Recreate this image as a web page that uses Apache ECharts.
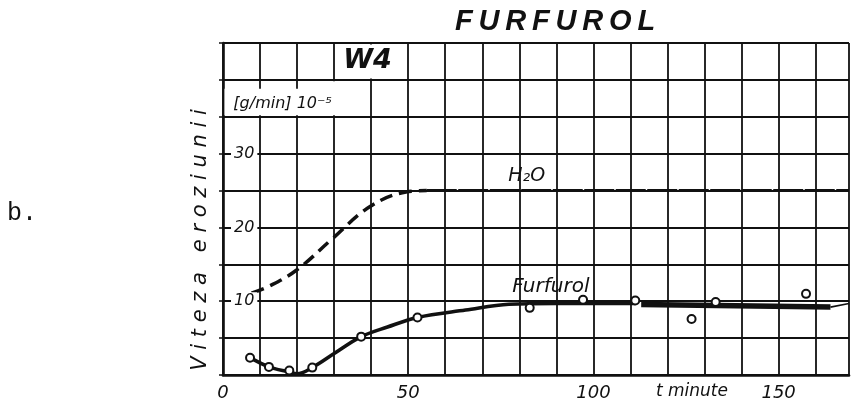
<!DOCTYPE html>
<html>
<head>
<meta charset="utf-8">
<script src="https://cdn.jsdelivr.net/npm/echarts@6/dist/echarts.min.js"></script>
<style>
  html, body { margin: 0; padding: 0; background: #fff; }
  #chart { width: 852px; height: 405px; }
</style>
</head>
<body>
<div id="chart"></div>
<script>
// Erosion rate of W4 in furfurol, compared with water (H2O)

// labelled ticks
const xTickLabels = [0, 50, 100, 150];
const yTickLabels = [10, 20, 30];

// measured points, furfurol [min] / [g/min 10^-5]
const furfurolT = [7.3, 12.4, 17.9, 24.1, 37.3, 52.5, 82.8, 97.2, 111.3, 126.5, 133.0, 157.4];
const furfurolV = [2.35, 1.1, 0.6, 1.0, 5.2, 7.8, 9.1, 10.2, 10.1, 7.6, 9.9, 11.0];

// mean curve drawn through the furfurol points
const furfurolCurveT = [7.3, 12.4, 17.9, 20.0, 24.1, 30.0, 37.3, 44.4, 52.5, 65.5, 77.2, 90.0, 100.0, 111.3];
const furfurolCurveV = [2.35, 1.1, 0.4, 0.15, 1.0, 2.9, 5.2, 6.5, 7.8, 8.8, 9.6, 9.7, 9.7, 9.7];
const furfurolLevelT = [112.9, 164.0];
const furfurolLevelV = [9.55, 9.2];
const furfurolTailT = [164.0, 169.0];
const furfurolTailV = [9.2, 9.7];

// water reference curve
const waterRiseT = [7.7, 12.3, 19.8, 29.6, 39.6, 49.4, 55.0];
const waterRiseV = [11.1, 12.0, 14.2, 18.5, 22.8, 24.8, 25.0];
const waterLevelT = [55.0, 169.0];
const waterLevelV = [25.0, 25.0];

const pairs = (a, b) => a.map((v, i) => [v, b[i]]);
const INK = '#111';
const HAND = 'DejaVu Sans';

const chart = echarts.init(document.getElementById('chart'), null, { renderer: 'canvas' });

chart.setOption({
  animation: false,
  backgroundColor: '#fff',
  title: {
    text: 'F\u2009U\u2009R\u2009F\u2009U\u2009R\u2009O\u2009L',
    left: 455,
    top: 7,
    padding: 0,
    textStyle: {
      fontFamily: 'Liberation Sans',
      fontStyle: 'italic',
      fontWeight: 'bold',
      fontSize: 29,
      color: INK
    }
  },
  grid: { left: 223, top: 43, bottom: 30, right: 0, containLabel: false },
  xAxis: {
    type: 'value',
    min: 0, max: 169, interval: 10,
    axisLine: { show: true, lineStyle: { color: INK, width: 2.6 } },
    axisTick: { show: false },
    splitLine: { show: true, lineStyle: { color: INK, width: 1.8 } },
    axisLabel: {
      margin: 9,
      color: INK,
      fontFamily: HAND,
      fontStyle: 'italic',
      fontSize: 18,
      formatter: v => (xTickLabels.includes(v) ? String(v) : '')
    }
  },
  yAxis: [
    {
      type: 'value',
      position: 'left',
      min: 0, max: 45, interval: 5,
      axisLine: { show: true, lineStyle: { color: INK, width: 2.6 } },
      axisTick: { show: true, length: 4, lineStyle: { color: INK, width: 1.5 } },
      splitLine: { show: true, lineStyle: { color: INK, width: 1.8 } },
      axisLabel: { show: false }
    },
    {
      type: 'value',
      position: 'left',
      offset: 0,
      min: 0, max: 45, interval: 5,
      z: 4,
      axisLine: { show: false },
      axisTick: { show: false },
      splitLine: { show: false },
      axisLabel: {
        inside: true,
        margin: 8,
        formatter: v => (yTickLabels.includes(v) ? '{n|' + v + '}' : ''),
        rich: {
          n: {
            color: INK,
            fontFamily: HAND,
            fontStyle: 'italic',
            fontSize: 16,
            backgroundColor: '#fff',
            padding: [1, 3]
          }
        }
      }
    }
  ],
  series: [
    {
      name: 'H2O rise',
      type: 'line',
      data: pairs(waterRiseT, waterRiseV),
      smooth: 0.4,
      symbol: 'none',
      lineStyle: { color: INK, width: 3.5, type: [13, 7] },
      z: 3
    },
    {
      name: 'H2O',
      type: 'line',
      data: pairs(waterLevelT, waterLevelV),
      symbol: 'none',
      lineStyle: { color: INK, width: 3, type: [30, 1.5] },
      z: 3,
      // header cells of the grid: W4 box and the unit box
      markArea: {
        silent: true,
        itemStyle: { color: '#fff', opacity: 1, borderWidth: 0 },
        label: { show: false },
        data: [
          [{ xAxis: 30.4, yAxis: 40.2 }, { xAxis: 49.6, yAxis: 44.8 }],
          [{ xAxis: 0.4, yAxis: 35.2 }, { xAxis: 29.6, yAxis: 38.8 }],
          [{ xAxis: 20.4, yAxis: 35.2 }, { xAxis: 39.6, yAxis: 39.8 }]
        ]
      }
    },
    {
      name: 'Furfurol',
      type: 'line',
      data: pairs(furfurolCurveT, furfurolCurveV),
      smooth: 0.35,
      symbol: 'none',
      lineStyle: { color: INK, width: 3.6 },
      z: 3
    },
    {
      name: 'Furfurol level',
      type: 'line',
      data: pairs(furfurolLevelT, furfurolLevelV),
      symbol: 'none',
      lineStyle: { color: INK, width: 5.5 },
      z: 3
    },
    {
      name: 'Furfurol tail',
      type: 'line',
      data: pairs(furfurolTailT, furfurolTailV),
      symbol: 'none',
      lineStyle: { color: INK, width: 1.6 },
      z: 3
    },
    {
      name: 'Furfurol points',
      type: 'scatter',
      data: pairs(furfurolT, furfurolV),
      symbol: 'circle',
      symbolSize: 8,
      itemStyle: { color: '#fff', borderColor: INK, borderWidth: 2, opacity: 1 },
      z: 5
    }
  ]
});

// text placed in data coordinates
const px = (x, y) => chart.convertToPixel({ gridIndex: 0 }, [x, y]);
const w4 = px(39, 42.6);
const unit = px(2.8, 36.8);
const h2o = px(82, 27.0);
const furf = px(88.5, 11.9);
const tMin = px(126.6, 0);

const handText = (pos, text, size, extra) => ({
  type: 'text',
  x: pos[0], y: pos[1],
  z: 10,
  style: Object.assign({
    text: text,
    fill: INK,
    font: 'italic ' + size + 'px "' + HAND + '"',
    align: 'center',
    verticalAlign: 'middle'
  }, extra || {})
});

chart.setOption({
  graphic: [
    handText(w4, 'W4', 27, { font: 'italic bold 27px "' + HAND + '"' }),
    handText(unit, '[g/min] 10\u207B\u2075', 16, { align: 'left' }),
    handText(h2o, 'H\u2082O', 19),
    handText(furf, 'Furfurol', 20),
    handText([tMin[0], tMin[1] + 17], 't minute', 17),
    {
      type: 'text',
      x: 201, y: 240,
      rotation: Math.PI / 2,
      z: 10,
      style: {
        text: 'V i t e z a   e r o z i u n i i',
        fill: INK,
        font: 'italic 21px "' + HAND + '"',
        align: 'center',
        verticalAlign: 'middle'
      }
    },
    {
      type: 'text',
      x: 7, y: 213,
      z: 10,
      style: {
        text: 'b.',
        fill: INK,
        font: '25px "Liberation Mono"',
        align: 'left',
        verticalAlign: 'middle'
      }
    }
  ]
});
</script>
</body>
</html>
